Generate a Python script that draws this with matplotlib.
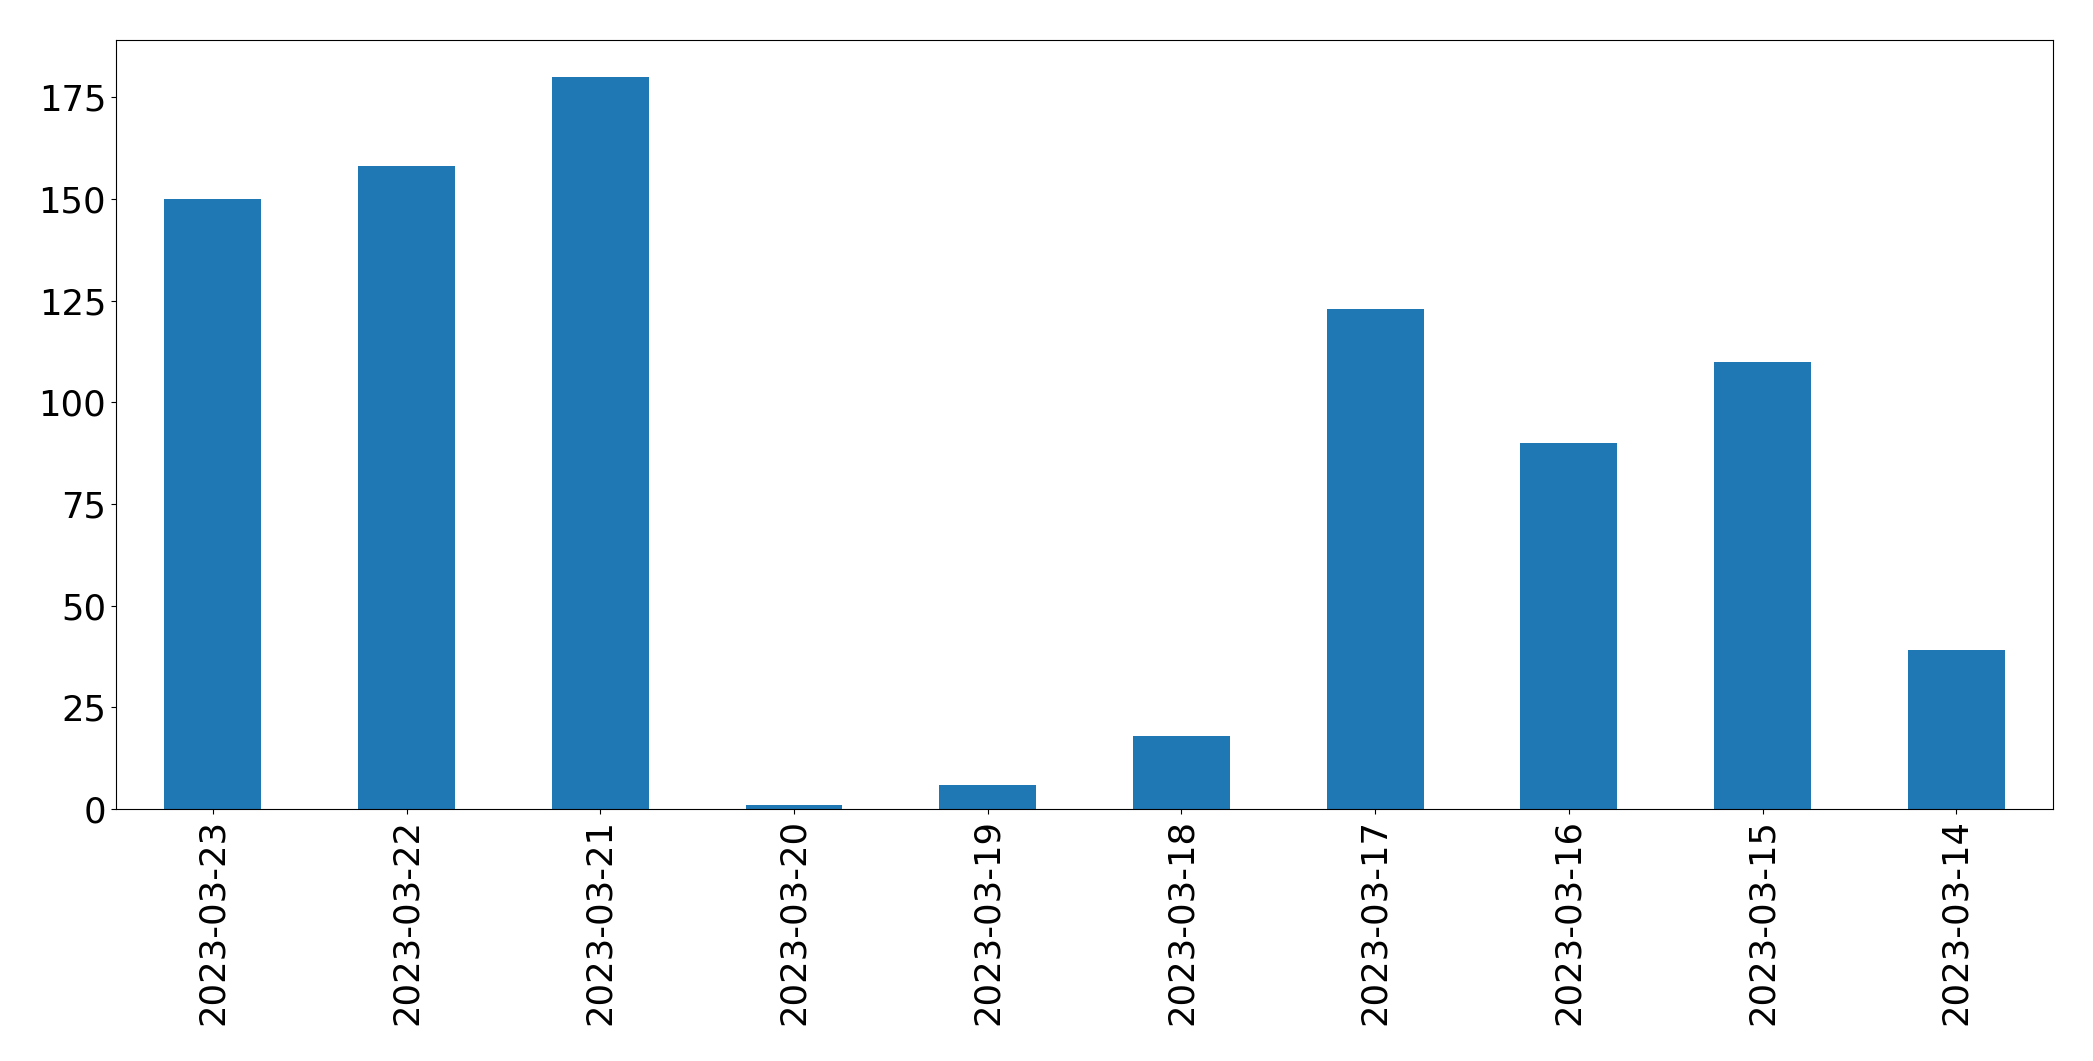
import matplotlib
matplotlib.use('Agg')
import matplotlib.pyplot as plt
import numpy as np

dates = ["2023-03-23", "2023-03-22", "2023-03-21", "2023-03-20", "2023-03-19",
         "2023-03-18", "2023-03-17", "2023-03-16", "2023-03-15", "2023-03-14"]
counts = [150, 158, 180, 1, 6, 18, 123, 90, 110, 39]

fig = plt.figure(figsize=(20.93, 10.61), dpi=100)
ax = fig.add_axes([0.0554, 0.2375, 0.9256, 0.7245])

x = np.arange(len(dates))
ax.bar(x, counts, 0.5, color="#1f77b4")
ax.set_xlim(-0.5, len(dates) - 0.5)
ax.set_xticks(x)
ax.set_xticklabels(dates, rotation=90, fontsize=25.5)
ax.tick_params(axis="y", labelsize=25.5)

fig.savefig("out.png", dpi=100)
